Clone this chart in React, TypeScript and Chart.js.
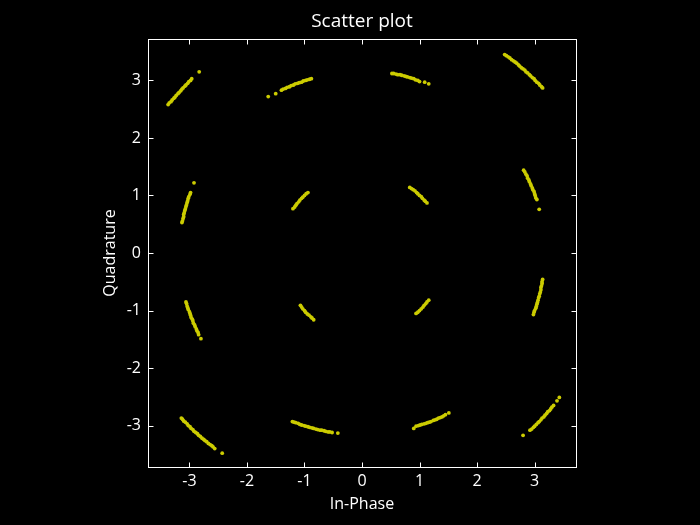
import React, { useEffect, useRef } from 'react';
import { Chart, registerables } from 'chart.js';

Chart.register(...registerables);

type Pt = [number, number];

// Cluster near (-3, 3)
const clusterA: Pt[] = [[-3.37,2.58],[-3.35,2.61],[-3.32,2.63],[-3.30,2.66],[-3.27,2.69],[-3.25,2.71],[-3.23,2.74],[-3.20,2.77],[-3.18,2.79],[-3.15,2.82],[-3.13,2.85],[-3.11,2.87],[-3.08,2.90],[-3.06,2.92],[-3.03,2.95],[-3.01,2.98],[-2.98,3.00],[-2.96,3.03],[-2.83,3.15]];
// Cluster near (-1, 3)
const clusterB: Pt[] = [[-1.63,2.72],[-1.50,2.77],[-1.40,2.83],[-1.37,2.85],[-1.33,2.86],[-1.30,2.88],[-1.26,2.89],[-1.23,2.91],[-1.19,2.92],[-1.16,2.94],[-1.12,2.95],[-1.09,2.96],[-1.05,2.97],[-1.02,2.99],[-0.98,3.00],[-0.95,3.01],[-0.91,3.02],[-0.88,3.03]];
// Cluster near (-3, 1)
const clusterC: Pt[] = [[-3.13,0.53],[-3.12,0.56],[-3.11,0.60],[-3.10,0.63],[-3.10,0.67],[-3.09,0.70],[-3.08,0.74],[-3.07,0.77],[-3.06,0.81],[-3.05,0.84],[-3.04,0.88],[-3.03,0.91],[-3.02,0.95],[-3.01,0.98],[-2.99,1.02],[-2.98,1.05],[-2.92,1.22]];
// Cluster near (-1, 1)
const clusterD: Pt[] = [[-1.20,0.77],[-1.17,0.80],[-1.15,0.83],[-1.13,0.86],[-1.10,0.89],[-1.08,0.92],[-1.05,0.95],[-1.03,0.97],[-1.00,1.00],[-0.97,1.03],[-0.94,1.05]];
// Cluster near (1, 3)
const clusterE: Pt[] = [[0.52,3.12],[0.55,3.12],[0.59,3.11],[0.62,3.10],[0.66,3.10],[0.69,3.09],[0.73,3.08],[0.76,3.07],[0.79,3.06],[0.83,3.05],[0.86,3.04],[0.90,3.03],[0.93,3.01],[0.97,3.00],[1.00,2.98],[1.09,2.97],[1.16,2.94]];
// Cluster near (3, 3)
const clusterF: Pt[] = [[2.48,3.45],[2.51,3.43],[2.54,3.41],[2.57,3.39],[2.60,3.36],[2.63,3.34],[2.66,3.32],[2.69,3.30],[2.72,3.27],[2.74,3.25],[2.77,3.22],[2.80,3.20],[2.83,3.18],[2.85,3.15],[2.88,3.13],[2.91,3.10],[2.93,3.08],[2.96,3.05],[2.99,3.03],[3.01,3.00],[3.04,2.97],[3.07,2.95],[3.09,2.92],[3.12,2.89],[3.14,2.87]];
// Cluster near (1, 1)
const clusterG: Pt[] = [[0.83,1.14],[0.86,1.12],[0.89,1.10],[0.92,1.08],[0.95,1.05],[0.97,1.03],[1.00,1.00],[1.03,0.98],[1.05,0.95],[1.08,0.92],[1.10,0.90],[1.13,0.87]];
// Cluster near (3, 1)
const clusterH: Pt[] = [[2.81,1.44],[2.83,1.41],[2.85,1.37],[2.87,1.34],[2.88,1.30],[2.90,1.27],[2.91,1.24],[2.93,1.20],[2.94,1.17],[2.96,1.13],[2.97,1.10],[2.99,1.07],[3.00,1.03],[3.01,1.00],[3.02,0.96],[3.04,0.93],[3.08,0.76]];
// Cluster near (-3, -1)
const clusterI: Pt[] = [[-3.06,-0.85],[-3.05,-0.88],[-3.04,-0.92],[-3.03,-0.95],[-3.02,-0.98],[-3.00,-1.02],[-2.99,-1.05],[-2.98,-1.08],[-2.97,-1.12],[-2.95,-1.15],[-2.94,-1.18],[-2.93,-1.22],[-2.91,-1.25],[-2.90,-1.28],[-2.88,-1.32],[-2.87,-1.35],[-2.85,-1.38],[-2.84,-1.42],[-2.80,-1.49]];
// Cluster near (-1, -1)
const clusterJ: Pt[] = [[-1.07,-0.91],[-1.05,-0.94],[-1.03,-0.97],[-1.00,-1.00],[-0.98,-1.03],[-0.95,-1.06],[-0.92,-1.08],[-0.89,-1.11],[-0.87,-1.13],[-0.84,-1.16]];
// Cluster near (-3, -3)
const clusterK: Pt[] = [[-3.14,-2.87],[-3.12,-2.89],[-3.10,-2.92],[-3.07,-2.94],[-3.04,-2.97],[-3.02,-3.00],[-2.99,-3.02],[-2.97,-3.05],[-2.94,-3.07],[-2.92,-3.10],[-2.89,-3.12],[-2.86,-3.14],[-2.84,-3.17],[-2.81,-3.19],[-2.78,-3.22],[-2.75,-3.24],[-2.73,-3.26],[-2.70,-3.28],[-2.67,-3.31],[-2.64,-3.33],[-2.61,-3.35],[-2.59,-3.37],[-2.56,-3.40],[-2.43,-3.48]];
// Cluster near (-1, -3)
const clusterL: Pt[] = [[-1.21,-2.93],[-1.18,-2.94],[-1.15,-2.95],[-1.11,-2.96],[-1.08,-2.98],[-1.05,-2.99],[-1.01,-3.00],[-0.98,-3.01],[-0.94,-3.02],[-0.91,-3.03],[-0.87,-3.04],[-0.84,-3.05],[-0.80,-3.06],[-0.77,-3.07],[-0.73,-3.08],[-0.70,-3.08],[-0.66,-3.09],[-0.63,-3.10],[-0.59,-3.11],[-0.56,-3.11],[-0.52,-3.12],[-0.42,-3.13]];
// Cluster near (1, -1)
const clusterM: Pt[] = [[0.94,-1.05],[0.97,-1.03],[1.00,-1.00],[1.03,-0.97],[1.06,-0.94],[1.08,-0.91],[1.11,-0.88],[1.13,-0.85],[1.16,-0.82]];
// Cluster near (3, -1)
const clusterN: Pt[] = [[2.98,-1.07],[2.99,-1.03],[3.00,-1.00],[3.02,-0.96],[3.03,-0.93],[3.04,-0.89],[3.05,-0.86],[3.06,-0.82],[3.07,-0.78],[3.08,-0.75],[3.09,-0.71],[3.10,-0.68],[3.11,-0.64],[3.11,-0.60],[3.12,-0.57],[3.13,-0.53],[3.13,-0.50],[3.14,-0.46]];
// Cluster near (1, -3)
const clusterO: Pt[] = [[0.90,-3.05],[0.94,-3.01],[0.98,-3.00],[1.01,-2.99],[1.04,-2.98],[1.08,-2.97],[1.11,-2.96],[1.14,-2.95],[1.17,-2.94],[1.20,-2.93],[1.24,-2.91],[1.27,-2.90],[1.30,-2.89],[1.33,-2.87],[1.36,-2.86],[1.39,-2.85],[1.42,-2.83],[1.45,-2.81],[1.51,-2.78]];
// Cluster near (3, -3)
const clusterP: Pt[] = [[2.80,-3.17],[2.92,-3.08],[2.95,-3.06],[2.98,-3.03],[3.00,-3.01],[3.03,-2.98],[3.06,-2.95],[3.08,-2.93],[3.11,-2.90],[3.13,-2.87],[3.16,-2.85],[3.18,-2.82],[3.21,-2.79],[3.23,-2.76],[3.26,-2.74],[3.28,-2.71],[3.30,-2.68],[3.33,-2.65],[3.39,-2.57],[3.43,-2.51]];

const clusters: Pt[][] = [clusterA, clusterB, clusterC, clusterD, clusterE, clusterF, clusterG, clusterH, clusterI, clusterJ, clusterK, clusterL, clusterM, clusterN, clusterO, clusterP];

const xTickValues = [-3, -2, -1, 0, 1, 2, 3];
const yTickValues = [-3, -2, -1, 0, 1, 2, 3];
const axisMin = -3.72;
const axisMax = 3.72;

const FONT = "'Open Sans', 'Noto Sans', sans-serif";

export default function App() {
  const ref = useRef<HTMLCanvasElement>(null);

  useEffect(() => {
    document.body.style.margin = '0';
    document.body.style.background = '#000';
    const canvas = ref.current;
    if (!canvas) return;

    const points = clusters.flat().map(([x, y]) => ({ x, y }));

    const frameTicks = {
      id: 'frameTicks',
      beforeDraw(chart: any) {
        const ctx = chart.ctx;
        ctx.save();
        ctx.fillStyle = '#000';
        ctx.fillRect(0, 0, chart.width, chart.height);
        ctx.restore();
      },
      afterDraw(chart: any) {
        const { ctx, chartArea, scales } = chart;
        const L = Math.round(chartArea.left) + 0.5;
        const R = Math.round(chartArea.right) + 0.5;
        const T = Math.round(chartArea.top) + 0.5;
        const B = Math.round(chartArea.bottom) + 0.5;
        const len = 5;
        ctx.save();
        ctx.strokeStyle = '#ffffff';
        ctx.lineWidth = 1;
        ctx.strokeRect(L, T, R - L, B - T);
        ctx.beginPath();
        scales.x.ticks.forEach((t: any) => {
          const p = Math.round(scales.x.getPixelForValue(t.value)) + 0.5;
          ctx.moveTo(p, B);
          ctx.lineTo(p, B - len);
          ctx.moveTo(p, T);
          ctx.lineTo(p, T + len);
        });
        scales.y.ticks.forEach((t: any) => {
          const p = Math.round(scales.y.getPixelForValue(t.value)) + 0.5;
          ctx.moveTo(L, p);
          ctx.lineTo(L + len, p);
          ctx.moveTo(R, p);
          ctx.lineTo(R - len, p);
        });
        ctx.stroke();
        ctx.restore();
      },
    };

    const chart = new Chart(canvas, {
      type: 'scatter',
      data: {
        datasets: [
          {
            data: points,
            backgroundColor: '#cccc00',
            borderWidth: 0,
            pointRadius: 1.9,
            pointHoverRadius: 1.9,
          },
        ],
      },
      options: {
        responsive: false,
        animation: false,
        events: [],
        layout: { padding: { left: 97, right: 124, top: 0, bottom: 8 } },
        plugins: {
          legend: { display: false },
          tooltip: { enabled: false },
          title: {
            display: true,
            fullSize: false,
            text: 'Scatter plot',
            color: '#ffffff',
            font: { family: FONT, size: 19, weight: 'normal', lineHeight: 1.2 },
            padding: { top: 10.6, bottom: 5.6 },
          },
        },
        scales: {
          x: {
            type: 'linear',
            min: axisMin,
            max: axisMax,
            afterBuildTicks: (scale: any) => {
              scale.ticks = xTickValues.map((v) => ({ value: v }));
            },
            afterFit: (scale: any) => {
              scale.height = 50;
            },
            grid: { display: false, drawTicks: false },
            border: { display: false },
            ticks: {
              color: '#ffffff',
              padding: 5,
              maxRotation: 0,
              font: { family: FONT, size: 16, lineHeight: 1.2 },
            },
            title: {
              display: true,
              text: 'In-Phase',
              color: '#ffffff',
              padding: { top: 3.4, bottom: 3.4 },
              font: { family: FONT, size: 16, lineHeight: 1.2 },
            },
          },
          y: {
            type: 'linear',
            min: axisMin,
            max: axisMax,
            afterBuildTicks: (scale: any) => {
              scale.ticks = yTickValues.map((v) => ({ value: v }));
            },
            afterFit: (scale: any) => {
              scale.width = 51;
            },
            grid: { display: false, drawTicks: false },
            border: { display: false },
            ticks: {
              color: '#ffffff',
              padding: 7,
              font: { family: FONT, size: 16, lineHeight: 1.2 },
            },
            title: {
              display: true,
              text: 'Quadrature',
              color: '#ffffff',
              padding: { top: 3.4, bottom: 3.4 },
              font: { family: FONT, size: 16, lineHeight: 1.2 },
            },
          },
        },
      },
      plugins: [frameTicks],
    });

    return () => chart.destroy();
  }, []);

  return (
    <div style={{ position: 'fixed', left: 0, top: 0, width: 700, height: 525, background: '#000' }}>
      <canvas ref={ref} width={700} height={525} style={{ width: 700, height: 525, display: 'block' }} />
    </div>
  );
}
